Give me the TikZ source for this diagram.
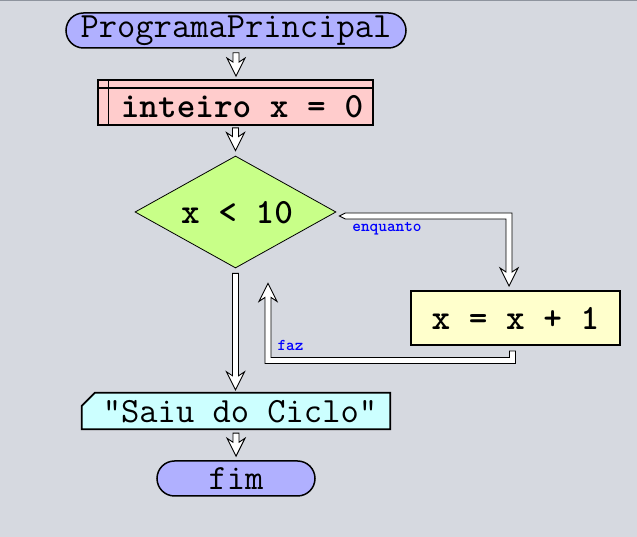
\documentclass[tikz,border=0pt]{standalone}
\usepackage{fontspec}
\usetikzlibrary{shapes.geometric,calc}
\definecolor{bgc}{RGB}{214,217,224}
\definecolor{topline}{RGB}{142,148,158}
\definecolor{lav}{RGB}{176,176,255}
\definecolor{pinkc}{RGB}{255,204,204}
\definecolor{greenc}{RGB}{200,255,136}
\definecolor{yellowc}{RGB}{255,255,204}
\definecolor{cyanc}{RGB}{204,255,255}
\definecolor{lblblue}{RGB}{0,0,255}
\tikzset{
  bigtext/.style={font=\ttfamily\fontsize{35.5}{35.5}\selectfont},
  bigbold/.style={font=\ttfamily\bfseries\fontsize{35.5}{35.5}\selectfont},
  lbl/.style={font=\ttfamily\bfseries\fontsize{16.5}{17}\selectfont, text=lblblue, inner sep=0pt},
  term/.style={draw=black, line width=1.5pt, fill=lav, rounded corners=17.5pt, inner sep=0pt},
  harrow/.style={draw=black, fill=white, line width=0.9pt, line join=miter},
}
\newcommand\hdown[2]{\draw[harrow] let \p1=(#1), \p2=(#2) in (\x1-3pt,\y1) -- (\x1-3pt,\y2+14pt) -- (\x1-9pt,\y2+18pt) -- (\x1,\y2) -- (\x1+9pt,\y2+18pt) -- (\x1+3pt,\y2+14pt) -- (\x1+3pt,\y1) -- cycle;}
\begin{document}
\begin{tikzpicture}[x=1pt,y=1pt]
\useasboundingbox (0,0) rectangle (637,537);
\fill[bgc] (0,0) rectangle (637,537);
\fill[topline] (0,536) rectangle (637,537);

% start
\node[term, bigtext, minimum width=340pt, minimum height=35pt] (start) at (236,506.5) {ProgramaPrincipal};

% declaration
\node[draw=black, line width=1.8pt, fill=pinkc, minimum width=275pt, minimum height=45pt, inner sep=0pt] (decl) at (235.5,434.5) {};
\draw[line width=1.2pt] ([xshift=11pt]decl.north west) -- ([xshift=11pt]decl.south west);
\draw[line width=1.2pt] ([yshift=-9pt]decl.north west) -- ([yshift=-9pt]decl.north east);
\node[bigbold, inner sep=0pt] (decltext) at (242,430) {inteiro x = 0};

% condition
\node[diamond, draw=black, line width=0.8pt, fill=greenc, minimum width=201pt, minimum height=112pt, inner sep=0pt] (cond) at (235.5,325) {};
\node[bigbold, inner sep=0pt] (condtext) at (237,324) {x < 10};

% loop body
\node[draw=black, line width=2pt, fill=yellowc, minimum width=209pt, minimum height=54pt, inner sep=0pt, bigbold] (body) at (515.5,219) {x = x + 1};

% output
\path (236,126) node[minimum width=308pt, minimum height=36pt, inner sep=0pt] (out) {};
\draw[line width=1.8pt, fill=cyanc] (out.south west) -- ([yshift=-13pt]out.north west) -- ([xshift=13pt]out.north west) -- (out.north east) -- (out.south east) -- cycle;
\node[bigtext, inner sep=0pt] (outtext) at (240,125) {"Saiu do Ciclo"};

% end
\node[term, bigtext, minimum width=158pt, minimum height=35pt] (fim) at (236,58.5) {fim};

% straight connectors
\hdown{$(start.south)+(0,-4)$}{$(decl.north)+(0,3)$}
\hdown{$(decl.south)+(0,-2)$}{$(cond.north)+(0,5)$}
\hdown{$(cond.south)+(0,-5)$}{$(out.north)+(0,3)$}
\hdown{$(out.south)+(0,-4)$}{$(fim.north)+(0,4)$}

% enquanto connector
\coordinate (eA) at ($(cond.east)+(3,-4)$);
\coordinate (eB) at ($(body.north)+(-6.5,4)$);
\draw[harrow] let \p1=(eA), \p2=(eB) in
  (\x1,\y1) -- (\x1+6pt,\y1+3pt) -- (\x2+3pt,\y1+3pt) -- (\x2+3pt,\y2+14pt) -- (\x2+9pt,\y2+18pt) -- (\x2,\y2) -- (\x2-9pt,\y2+18pt) -- (\x2-3pt,\y2+14pt) -- (\x2-3pt,\y1-3pt) -- (\x1+6pt,\y1-3pt) -- cycle;
\node[lbl] (enq) at (387,308) {enquanto};

% faz connector
\coordinate (fA) at ($(body.south)+(-3,-5)$);
\coordinate (fB) at ($(cond.south)+(32.5,-15)$);
\draw[harrow] let \p1=(fA), \p2=(fB) in
  (\x1-3pt,\y1) -- (\x1+3pt,\y1) -- (\x1+3pt,\y1-12.5pt) -- (\x2-3pt,\y1-12.5pt) -- (\x2-3pt,\y2-14pt) -- (\x2-9pt,\y2-18pt) -- (\x2,\y2) -- (\x2+9pt,\y2-18pt) -- (\x2+3pt,\y2-14pt) -- (\x2+3pt,\y1-6.5pt) -- (\x1-3pt,\y1-6.5pt) -- cycle;
\node[lbl] (faz) at (290.5,192) {faz};
\end{tikzpicture}
\end{document}
